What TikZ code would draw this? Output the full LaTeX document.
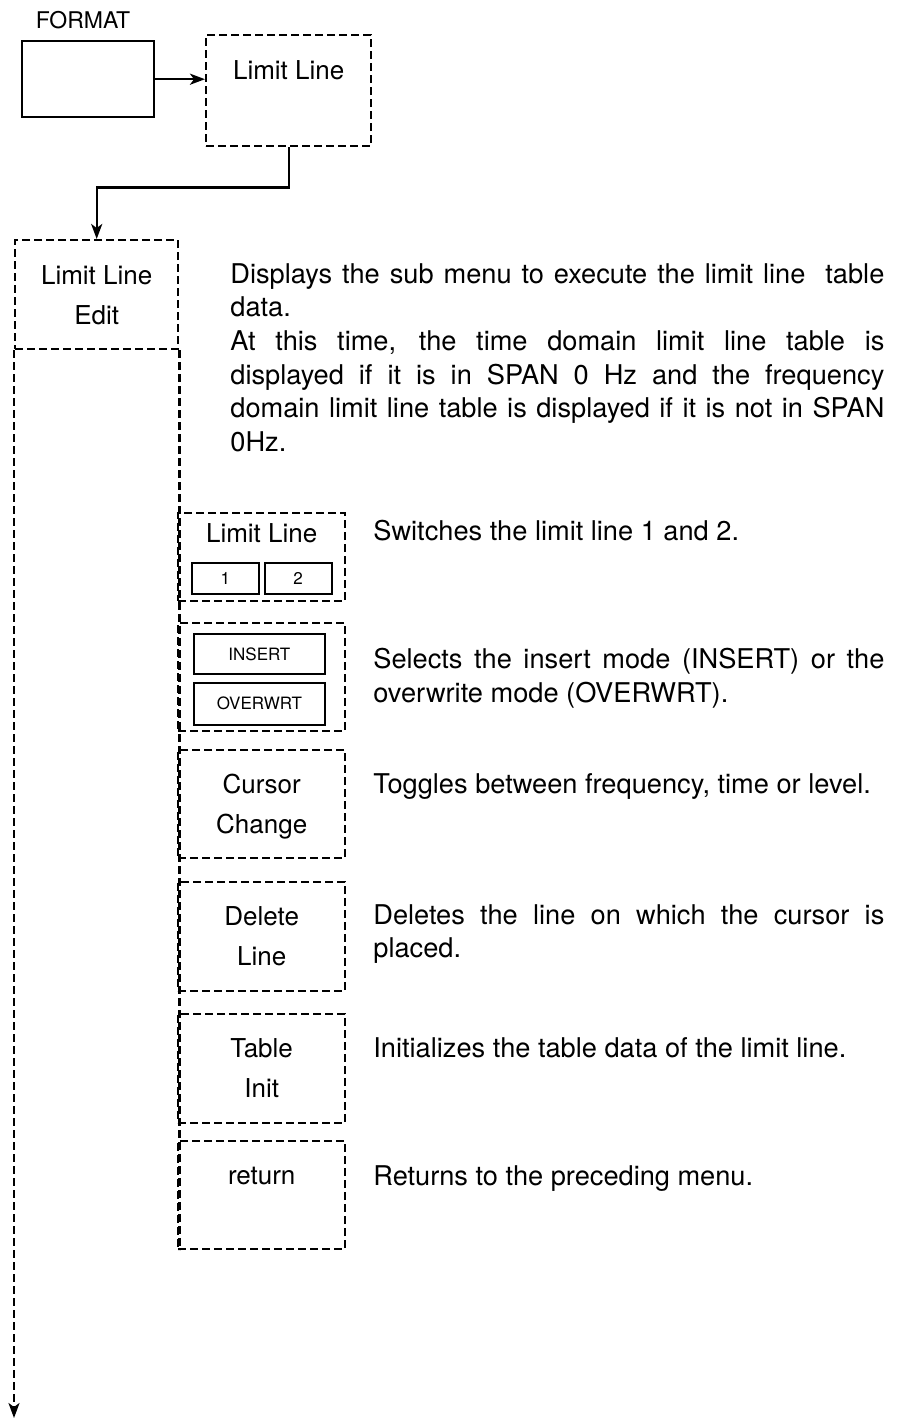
\documentclass[tikz,border=0pt]{standalone}
\usepackage{fontspec}
\setmainfont{TeX Gyre Heros}
\usetikzlibrary{positioning,calc,arrows.meta}

\tikzset{
  menubox/.style={draw,line width=1.2pt,dash pattern=on 4pt off 2pt,anchor=north west,inner sep=0pt},
  keybox/.style={draw,line width=1.2pt,anchor=north west,inner sep=0pt},
  keylbl/.style={font=\fontsize{13}{20}\selectfont,align=center,anchor=north,inner sep=0pt},
  btn/.style={draw,line width=0.9pt,inner sep=0pt,font=\fontsize{8.5}{10}\selectfont},
  desc/.style={font=\fontsize{13.6}{16.8}\selectfont,anchor=north west,align=left,inner sep=0pt},
  flow/.style={line width=1.2pt,-{Stealth[length=7.5pt,width=5.5pt,inset=2pt]}},
  colline/.style={line width=1.2pt,dash pattern=on 4pt off 2pt},
}

\begin{document}
\begin{tikzpicture}[x=0.5pt,y=-0.5pt]
% page in pixel units of the scan, y pointing down
\useasboundingbox (0,0) rectangle (898,1419);
\def\jline#1#2{\makebox[#1][s]{#2}}
% top level: FORMAT key and the Limit Line soft key
\node[font=\fontsize{11.5}{12}\selectfont] (fmtlbl) at (83,20) {FORMAT};
\node[keybox,minimum width=66pt,minimum height=38pt] (format) at (21,40) {};
\node[menubox,minimum width=82.5pt,minimum height=55.5pt] (limit) at (205,34) {};
\node[keylbl] (limittxt) at ($(limit.north)+(0,26)$) {Limit Line};
\draw[flow] (format.east) -- (format.east -| limit.west);
% Limit Line Edit and its column
\node[menubox,minimum width=81.5pt,minimum height=54.5pt] (edit) at (14,239) {};
\node[keylbl] (edittxt) at ($(edit.north)+(0,26)$) {Limit Line\\Edit};
\draw[flow] (limit.south) -- ++(0,40) -| (edit.north);
\node[desc] (dedit) at (230,263) {%
  \jline{327pt}{Displays the sub menu to execute the limit line\ \ table}\\
  data.\\
  \jline{327pt}{At this time, the time domain limit line table is}\\
  \jline{327pt}{displayed if it is in SPAN 0 Hz and the frequency}\\
  \jline{327pt}{domain limit line table is displayed if it is not in SPAN}\\
  0Hz.};
% sub menu keys
\node[menubox,minimum width=83.5pt,minimum height=44pt] (slim) at (177,512) {};
\node[keylbl] (slimtxt) at ($(slim.north)+(0,11)$) {Limit Line};
\node[btn,minimum width=33.5pt,minimum height=15.5pt,anchor=north west] (b1) at (191,562) {1};
\node[btn,minimum width=33.5pt,minimum height=15.5pt,right=2pt of b1] (b2) {2};
\node[menubox,minimum width=83.5pt,minimum height=54pt] (sins) at (177,622) {};
\node[btn,minimum width=65.5pt,minimum height=20pt,anchor=north west] (bins) at (193,633) {INSERT};
\node[btn,minimum width=65.5pt,minimum height=21pt,below=3.5pt of bins] (bovr) {OVERWRT};
\node[menubox,minimum width=83.5pt,minimum height=54pt] (scur) at (177,749) {};
\node[keylbl] (scurtxt) at ($(scur.north)+(0,25)$) {Cursor\\Change};
\node[menubox,minimum width=83.5pt,minimum height=54.5pt] (sdel) at (177,881) {};
\node[keylbl] (sdeltxt) at ($(sdel.north)+(0,25)$) {Delete\\Line};
\node[menubox,minimum width=83.5pt,minimum height=54.5pt] (sinit) at (177,1013) {};
\node[keylbl] (sinittxt) at ($(sinit.north)+(0,25)$) {Table\\Init};
\node[menubox,minimum width=83.5pt,minimum height=54pt] (sret) at (177,1140) {};
\node[keylbl] (srettxt) at ($(sret.north)+(0,27)$) {return};
% column lines
\coordinate (colend) at (14,1418);
\draw[colline,-{Stealth[length=7.5pt,width=5.5pt,inset=2pt]}] (edit.south west) -- (colend);
\draw[colline] (edit.south east) -- (edit.south east |- sret.south);
% descriptions
\node[desc] (dlim) at (373,520) {Switches the limit line 1 and 2.};
\node[desc] (dins) at (373,648) {\jline{255.5pt}{Selects the insert mode (INSERT) or the}\\overwrite mode (OVERWRT).};
\node[desc] (dcur) at (373,773) {Toggles between frequency, time or level.};
\node[desc] (ddel) at (373,904) {\jline{255.5pt}{Deletes the line on which the cursor is}\\placed.};
\node[desc] (dinit) at (373,1037) {Initializes the table data of the limit line.};
\node[desc] (dret) at (373,1165) {Returns to the preceding menu.};
\end{tikzpicture}
\end{document}
